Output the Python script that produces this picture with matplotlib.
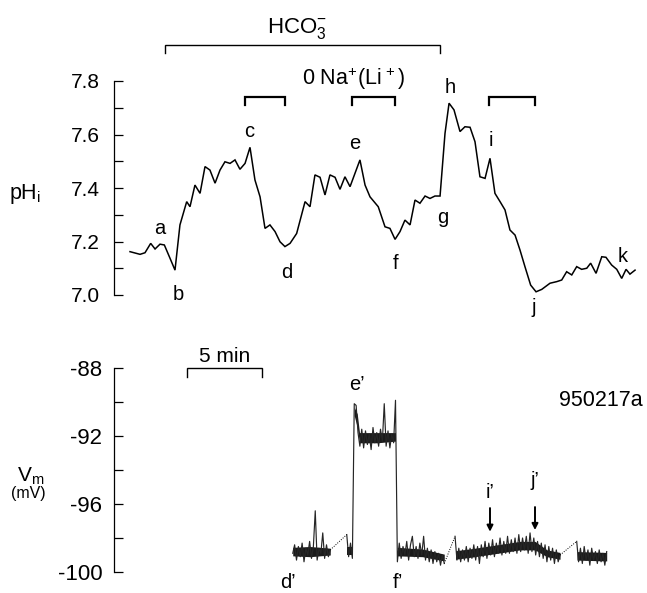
import numpy as np
import matplotlib
matplotlib.use('Agg')
import matplotlib.pyplot as plt
from matplotlib.ticker import MultipleLocator

plt.rcParams['font.family'] = ['Liberation Sans', 'DejaVu Sans']
plt.rcParams['mathtext.fontset'] = 'custom'
plt.rcParams['mathtext.rm'] = 'Liberation Sans'
plt.rcParams['mathtext.it'] = 'Liberation Sans:italic'
plt.rcParams['mathtext.bf'] = 'Liberation Sans:bold'
plt.rcParams['axes.unicode_minus'] = False

# pHi record (time in min from start of record)
ph_time = [0.0, 0.67, 1.0, 1.38, 1.67, 2.0, 2.29, 2.67, 3.0, 3.33, 3.78, 4.0,
           4.33, 4.67, 5.0, 5.33, 5.67, 6.0, 6.33, 6.67, 7.0, 7.33, 7.67, 8.0,
           8.33, 8.67, 9.0, 9.33, 9.67, 10.0, 10.33, 10.67, 11.11, 11.67, 12.0,
           12.33, 12.67, 13.0, 13.33, 13.67, 14.0, 14.33, 14.67, 15.33, 15.67,
           16.0, 16.55, 17.0, 17.33, 17.67, 18.0, 18.33, 18.67, 19.0, 19.33,
           19.67, 20.0, 20.33, 20.67, 21.0, 21.27, 21.6, 22.0, 22.33, 22.67,
           23.0, 23.33, 23.67, 24.0, 24.33, 24.67, 25.0, 25.33, 25.67, 26.0,
           26.33, 26.71, 27.07, 27.45, 28.0, 28.45, 28.78, 29.11, 29.45, 29.78,
           30.11, 30.45, 30.71, 31.07, 31.45, 31.73, 32.11, 32.45, 32.78, 33.07,
           33.33, 33.67]
ph_value = [7.162, 7.152, 7.158, 7.193, 7.172, 7.19, 7.187, 7.137, 7.093, 7.262,
            7.349, 7.330, 7.411, 7.380, 7.480, 7.467, 7.418, 7.467, 7.498, 7.492,
            7.505, 7.470, 7.492, 7.552, 7.430, 7.367, 7.249, 7.262, 7.237, 7.199,
            7.181, 7.193, 7.23, 7.349, 7.330, 7.449, 7.440, 7.374, 7.449, 7.440,
            7.395, 7.442, 7.405, 7.505, 7.411, 7.367, 7.330, 7.255, 7.249, 7.208,
            7.237, 7.280, 7.262, 7.355, 7.343, 7.370, 7.361, 7.370, 7.370, 7.604,
            7.717, 7.692, 7.611, 7.629, 7.627, 7.573, 7.442, 7.436, 7.511, 7.380,
            7.349, 7.318, 7.243, 7.224, 7.168, 7.106, 7.037, 7.012, 7.021, 7.044,
            7.05, 7.056, 7.087, 7.075, 7.106, 7.096, 7.1, 7.119, 7.081, 7.143,
            7.141, 7.112, 7.096, 7.062, 7.096, 7.078, 7.093]

# point labels on the pHi trace: (label, time, pH at baseline)
ph_labels = [('a', 2.0, 7.228), ('b', 3.2, 6.981), ('c', 7.93, 7.592),
             ('d', 10.47, 7.065), ('e', 15.0, 7.545), ('f', 17.73, 7.096),
             ('g', 20.87, 7.270), ('h', 21.33, 7.754), ('i', 24.05, 7.558),
             ('j', 26.93, 6.933), ('k', 32.87, 7.125)]

hco3_period = (2.33, 20.67)
zero_na_periods = [(7.67, 10.33), (14.82, 17.67), (23.96, 27.0)]

# Vm record, sampled every 0.125 min in each stretch
vm_step = 0.125
vm_a_start = 10.85
vm_a = [-98.9, -98.4, -99.3, -98.5, -99.1, -98.3, -99.4, -98.6, -99.0, -98.2,
        -99.2, -98.5, -96.4, -99.3, -98.6, -98.9, -97.7, -99.2, -98.4, -99.1,
        -98.7]
vm_b_start = 14.45
vm_b = [-97.8, -99.1, -98.3, -99.2, -90.1, -90.2, -91.8, -92.6, -91.6, -92.7,
        -91.7, -92.5, -91.9, -92.8, -91.5, -92.4, -91.8, -92.6, -91.6, -92.3,
        -90.1, -92.6, -91.7, -92.7, -91.9, -92.4, -89.9, -99.4, -98.3, -99.2,
        -98.5, -99.0, -98.2, -99.3, -98.4, -97.9, -99.1, -98.5, -99.2, -98.3,
        -99.0, -97.9, -99.3, -98.6, -99.4, -98.7, -99.5, -98.8, -99.4, -98.9,
        -99.6, -99.0, -99.5]
vm_c_start = 21.67
vm_c = [-97.9, -99.3, -98.6, -99.4, -98.7, -99.3, -98.5, -99.4, -98.6, -99.2,
        -98.4, -99.3, -98.5, -99.5, -98.4, -99.1, -98.2, -99.2, -98.3, -99.0,
        -98.1, -99.1, -98.3, -98.9, -98.0, -99.0, -98.2, -98.9, -97.9, -98.9,
        -98.1, -98.8, -98.0, -98.9, -97.8, -98.8, -98.0, -98.7, -97.9, -98.9,
        -97.7, -98.8, -98.0, -99.0, -98.2, -99.1, -98.3, -99.2, -98.4, -99.4,
        -98.5, -99.3, -98.6, -99.5, -98.7, -99.4, -99.0]
vm_d_start = 29.78
vm_d = [-98.2, -99.4, -98.6, -99.5, -98.5, -99.3, -98.7, -99.6, -98.6, -99.3,
        -98.8, -99.5, -98.7, -99.4, -98.9, -99.6, -98.8]

# dense core of the noisy Vm band: time, lower edge, upper edge
band_a_t = [10.85, 12.0, 13.35]
band_a_lo = [-99.05, -99.1, -99.0]
band_a_hi = [-98.55, -98.5, -98.6]
band_b1_t = [14.45, 14.83]
band_b1_lo = [-99.0, -99.0]
band_b1_hi = [-98.5, -98.5]
band_b2_t = [14.95, 15.15, 15.3, 16.5, 17.7]
band_b2_lo = [-90.8, -91.5, -92.4, -92.4, -92.3]
band_b2_hi = [-90.3, -90.7, -91.8, -91.8, -91.8]
band_b3_t = [17.82, 19.5, 20.95]
band_b3_lo = [-99.05, -99.1, -99.35]
band_b3_hi = [-98.55, -98.65, -98.95]
band_c_t = [21.7, 23.0, 24.5, 26.0, 27.0, 27.8, 28.67]
band_c_lo = [-99.25, -99.1, -98.9, -98.7, -98.7, -99.1, -99.25]
band_c_hi = [-98.75, -98.6, -98.4, -98.2, -98.2, -98.7, -98.85]
band_d_t = [29.8, 31.78]
band_d_lo = [-99.3, -99.35]
band_d_hi = [-98.8, -98.85]

vm_labels = [('d\u2019', 10.53, -100.97), ('e\u2019', 15.11, -89.29),
             ('f\u2019', 17.87, -100.97)]
arrow_labels = [('i\u2019', 24.0, -95.67, -96.24, -97.63),
                ('j\u2019', 27.0, -94.94, -96.18, -97.53)]

W, H = 647, 593
fig = plt.figure(figsize=(W / 100, H / 100), dpi=100)
xlim = (-16 / 15, (W - 130) / 15)

ax1 = fig.add_axes([114 / W, (H - 295) / H, (W - 114) / W, 214 / H])
ax2 = fig.add_axes([114 / W, 21 / H, (W - 114) / W, 204 / H])

for ax in (ax1, ax2):
    ax.set_xlim(*xlim)
    for side in ('top', 'right', 'bottom'):
        ax.spines[side].set_visible(False)
    ax.spines['left'].set_linewidth(0.9)
    ax.set_xticks([])
    ax.patch.set_visible(False)
    ax.tick_params(axis='y', which='both', direction='in', length=6.5,
                   width=0.9)

# --- pHi panel
ax1.plot(ph_time, ph_value, color='k', lw=1.1, solid_joinstyle='miter')
ax1.set_ylim(7.0, 7.8)
ax1.yaxis.set_major_locator(MultipleLocator(0.2))
ax1.yaxis.set_minor_locator(MultipleLocator(0.1))
ax1.yaxis.set_major_formatter(lambda v, p: '%.1f' % v)
ax1.tick_params(axis='y', labelsize=15, pad=10)

for lab, t, y in ph_labels:
    ax1.text(t, y, lab, fontsize=14.5, ha='center', va='baseline', clip_on=False)


def bracket(ax, t0, t1, y, y_end, lw):
    ax.plot([t0, t0, t1, t1], [y_end, y, y, y_end], color='k', lw=lw,
            clip_on=False, solid_joinstyle='miter')


bracket(ax1, hco3_period[0], hco3_period[1], 7.935, 7.904, 1.0)
ax1.text(11.13, 7.98, r'HCO$_3^{-}$', fontsize=16, ha='center', va='baseline',
         clip_on=False)
for t0, t1 in zero_na_periods:
    bracket(ax1, t0, t1, 7.741, 7.712, 1.6)
ax1.text(14.93, 7.785, r'0 Na$^{+}$(Li$^{\,+}$)', fontsize=15.5, ha='center',
         va='baseline', clip_on=False)

fig.text(25 / W, (H - 199) / H, r'pH$_\mathrm{i}$', fontsize=15.5, ha='center',
         va='baseline')

# --- Vm panel
ax2.set_ylim(-100, -88)
ax2.yaxis.set_major_locator(MultipleLocator(4))
ax2.yaxis.set_minor_locator(MultipleLocator(2))
ax2.yaxis.set_major_formatter(lambda v, p: '%d' % v)
ax2.tick_params(axis='y', labelsize=16, pad=8.5)

bands = [(band_a_t, band_a_lo, band_a_hi), (band_b1_t, band_b1_lo, band_b1_hi),
         (band_b2_t, band_b2_lo, band_b2_hi), (band_b3_t, band_b3_lo, band_b3_hi),
         (band_c_t, band_c_lo, band_c_hi), (band_d_t, band_d_lo, band_d_hi)]
for bt, lo, hi in bands:
    ax2.fill_between(bt, lo, hi, color='0.1', lw=0)

stretches = [(vm_a_start, vm_a), (vm_b_start, vm_b), (vm_c_start, vm_c),
             (vm_d_start, vm_d)]
ends = []
for t0, vals in stretches:
    tt = t0 + vm_step * np.arange(len(vals))
    ax2.plot(tt, vals, color='0.15', lw=0.85)
    ends.append((tt[0], vals[0], tt[-1], vals[-1]))

# dotted joins over the gaps in the record
for prev, nxt in zip(ends[:-1], ends[1:]):
    ax2.plot([prev[2], nxt[0]], [prev[3], nxt[1]], color='k', lw=0.7,
             linestyle=(0, (1, 1.5)))

for lab, t, y in vm_labels:
    ax2.text(t, y, lab, fontsize=14.5, ha='center', va='baseline', clip_on=False)
for lab, t, y, y0, y1 in arrow_labels:
    ax2.text(t, y, lab, fontsize=14.5, ha='center', va='baseline')
    ax2.annotate('', xy=(t, y1), xytext=(t, y0),
                 arrowprops=dict(arrowstyle='-|>', lw=1.4, color='k',
                                 mutation_scale=9, shrinkA=0, shrinkB=0))

ax2.text(34.15, -90.24, '950217a', fontsize=15.5, ha='right', va='baseline')

# 5 min scale bar
bracket(ax2, 3.82, 8.82, -88.02, -88.5, 1.0)
ax2.text(6.33, -87.63, '5 min', fontsize=15, ha='center', va='baseline',
         clip_on=False)

fig.text(31 / W, (H - 482) / H, r'V$_\mathrm{m}$', fontsize=15, ha='center',
         va='baseline')
fig.text(28 / W, (H - 498) / H, '(mV)', fontsize=11.5, ha='center', va='baseline')

fig.savefig('out.png', dpi=100)
plt.close(fig)
